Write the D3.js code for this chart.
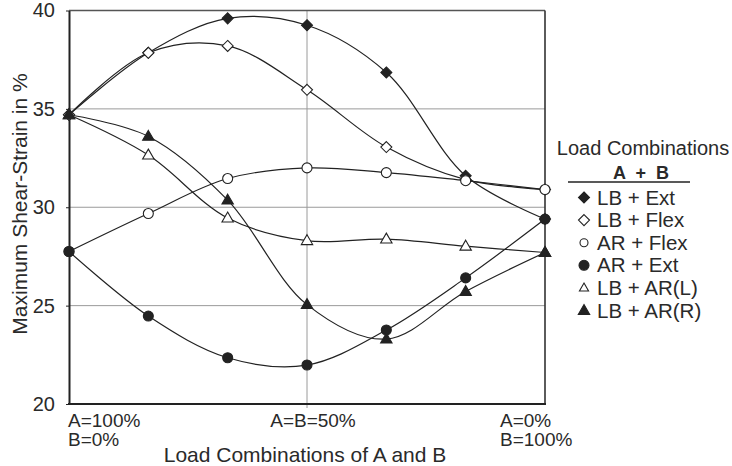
<!DOCTYPE html>
<html>
<head>
<meta charset="utf-8">
<script src="https://cdn.jsdelivr.net/npm/d3@7"></script>
<style>
  html, body { margin: 0; padding: 0; background: #fff; }
  svg { display: block; font-family: "Liberation Sans", Arial, sans-serif; }
  text { fill: #2a2a2a; white-space: pre; }
</style>
</head>
<body>
<svg id="chart" width="732" height="466"></svg>
<script>
// x positions: 7 load steps from A=100% to B=100%
const steps = [0, 1, 2, 3, 4, 5, 6];
const yTicks = [20, 25, 30, 35, 40];
const lbExt   = [34.7, 37.85, 39.6, 39.25, 36.85, 31.6, 29.4];
const lbFlex  = [34.7, 37.85, 38.2, 35.97, 33.06, 31.4, 30.9];
const arFlex  = [27.75, 29.68, 31.46, 32.0, 31.76, 31.35, 30.9];
const arExt   = [27.75, 24.47, 22.35, 21.98, 23.76, 26.41, 29.4];
const lbArL   = [34.7, 32.65, 29.45, 28.3, 28.38, 28.02, 27.7];
const lbArR   = [34.7, 33.6, 30.36, 25.05, 23.3, 25.72, 27.7];
const seriesNames = ["LB + Ext", "LB + Flex", "AR + Flex", "AR + Ext", "LB + AR(L)", "LB + AR(R)"];
const seriesMarks = ["diamondFill", "diamondOpen", "circleOpen", "circleFill", "triOpen", "triFill"];
const seriesVals = [lbExt, lbFlex, arFlex, arExt, lbArL, lbArR];

const svg = d3.select("#chart");
const L = 69, R = 545, T = 10.5, B = 404;
const x = d3.scaleLinear().domain([0, 6]).range([L, R]);
const y = d3.scaleLinear().domain([20, 40]).range([B, T]);
const ink = "#222";

// grid
svg.append("g").selectAll("line").data([25, 30, 35]).join("line")
  .attr("x1", L).attr("x2", R).attr("y1", d => y(d)).attr("y2", d => y(d))
  .attr("stroke", "#9a9a9a").attr("stroke-width", 1);
svg.append("line").attr("x1", x(3)).attr("x2", x(3)).attr("y1", T).attr("y2", B + 4)
  .attr("stroke", "#9a9a9a").attr("stroke-width", 1);

// frame: top/right lighter, left/bottom heavy
svg.append("line").attr("x1", L).attr("x2", R).attr("y1", T).attr("y2", T).attr("stroke", "#555").attr("stroke-width", 1.3);
svg.append("line").attr("x1", R).attr("x2", R).attr("y1", T).attr("y2", B).attr("stroke", "#333").attr("stroke-width", 1.6);

// y axis
const yAxis = svg.append("g").attr("transform", `translate(${L},0)`)
  .call(d3.axisLeft(y).tickValues(yTicks).tickSize(3).tickPadding(11).tickSizeOuter(0));
yAxis.select(".domain").attr("stroke", ink).attr("stroke-width", 2);
yAxis.selectAll(".tick line").attr("stroke", ink);
yAxis.selectAll(".tick text").attr("font-size", "20px").attr("fill", "#2a2a2a").attr("font-family", "Liberation Sans, Arial, sans-serif");

// x axis line
svg.append("line").attr("x1", L - 1).attr("x2", R + 1).attr("y1", B).attr("y2", B).attr("stroke", ink).attr("stroke-width", 2);

// x tick labels (two-line labels at the ends)
const xl = svg.append("g").attr("font-size", "19px");
xl.append("text").attr("x", x(0) - 1).attr("y", 427).text("A=100%");
xl.append("text").attr("x", x(0) - 1).attr("y", 446).text("B=0%");
xl.append("text").attr("x", x(3) + 6).attr("y", 427).attr("text-anchor", "middle").text("A=B=50%");
xl.append("text").attr("x", x(6) - 45).attr("y", 427).text("A=0%");
xl.append("text").attr("x", x(6) - 45).attr("y", 446).text("B=100%");

// axis titles
svg.append("text").attr("x", 305).attr("y", 462).attr("text-anchor", "middle").attr("font-size", "21px")
  .text("Load Combinations of A and B");
svg.append("text").attr("transform", "translate(27,204) rotate(-90)").attr("text-anchor", "middle").attr("font-size", "21px")
  .text("Maximum Shear-Strain in %");

// curves
const line = d3.line().x((d, i) => x(steps[i])).y(d => y(d)).curve(d3.curveCatmullRom.alpha(0.5));
svg.append("g").selectAll("path").data(seriesVals).join("path")
  .attr("d", d => line(d)).attr("fill", "none").attr("stroke", ink).attr("stroke-width", 1.2);

// markers
function drawMark(g, kind, cx, cy, s) {
  s = s || 1;
  const fill = kind.endsWith("Fill") ? ink : "#fff";
  if (kind.startsWith("diamond")) {
    const r = 5.5 * s;
    g.append("path").attr("d", `M${cx},${cy - r}L${cx + r},${cy}L${cx},${cy + r}L${cx - r},${cy}Z`)
      .attr("fill", fill).attr("stroke", ink).attr("stroke-width", 1.1);
  } else if (kind.startsWith("circle")) {
    g.append("circle").attr("cx", cx).attr("cy", cy).attr("r", 5 * s)
      .attr("fill", fill).attr("stroke", ink).attr("stroke-width", 1.1);
  } else {
    const r = 6 * s;
    g.append("path").attr("d", `M${cx},${cy - r}L${cx + r * 0.95},${cy + r * 0.65}L${cx - r * 0.95},${cy + r * 0.65}Z`)
      .attr("fill", fill).attr("stroke", ink).attr("stroke-width", 1.1);
  }
}
const mg = svg.append("g");
seriesVals.forEach((vals, k) => {
  vals.forEach((v, i) => drawMark(mg, seriesMarks[k], x(steps[i]), y(v)));
});

// legend
const lg = svg.append("g").attr("font-size", "20.5px");
lg.append("text").attr("x", 643).attr("y", 155).attr("text-anchor", "middle").attr("font-size", "20px").text("Load Combinations");
lg.append("text").attr("x", 641).attr("y", 179).attr("text-anchor", "middle").attr("font-weight", "bold").attr("font-size", "18px").text("A  +  B");
lg.append("line").attr("x1", 568).attr("x2", 690).attr("y1", 182).attr("y2", 182).attr("stroke", ink).attr("stroke-width", 1.6);
seriesNames.forEach((name, k) => {
  const cy = 197.5 + k * 22.6;
  drawMark(lg, seriesMarks[k], 584, cy, k === 2 || k === 4 ? 0.8 : 1);
  lg.append("text").attr("x", 597).attr("y", cy + 7).text(name);
});
</script>
</body>
</html>
